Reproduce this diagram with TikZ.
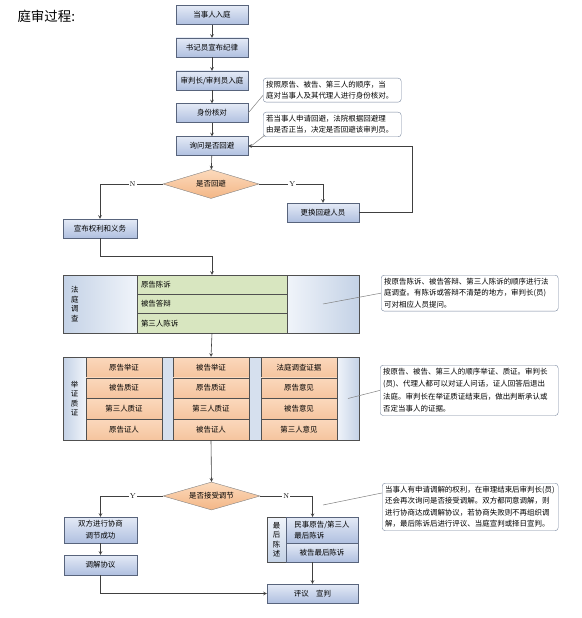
\documentclass[tikz,border=0pt]{standalone}
\usepackage{fontspec}
\newfontfamily\cjk{Noto Sans CJK SC}
\usetikzlibrary{shapes.geometric}
\tikzset{>=stealth}
\definecolor{boxtop}{RGB}{228,234,246}
\definecolor{boxbot}{RGB}{176,192,224}
\definecolor{boxline}{RGB}{88,100,124}
\definecolor{diatop}{RGB}{252,218,188}
\definecolor{diabot}{RGB}{243,182,134}
\definecolor{dialine}{RGB}{130,130,130}
\definecolor{greencell}{RGB}{216,230,192}
\definecolor{orangetop}{RGB}{251,216,188}
\definecolor{orangebot}{RGB}{245,196,158}
\definecolor{labblue}{RGB}{196,210,230}
\definecolor{labwhite}{RGB}{240,244,250}
\definecolor{gapblue}{RGB}{214,224,238}
\definecolor{cellline}{RGB}{80,80,80}
\definecolor{notecol}{RGB}{120,134,158}
\definecolor{linecol}{RGB}{64,64,64}

\begin{document}
\begin{tikzpicture}[x=1bp,y=-1bp,
    every node/.style={font=\cjk\fontsize{7.5}{9.5}\selectfont},
    proc/.style={draw=boxline, top color=boxtop, bottom color=boxbot, minimum width=72bp, minimum height=19bp, inner sep=1bp, align=center},
    decide/.style={diamond, draw=dialine, top color=diatop, bottom color=diabot, minimum width=96bp, minimum height=29bp, inner sep=0pt, aspect=3},
    note/.style={draw=notecol, rounded corners=3bp, fill=white, align=left, inner xsep=3bp, inner ysep=3bp, anchor=north west, font=\cjk\fontsize{7.5}{12.5}\selectfont},
    labcell/.style={draw=cellline, left color=labblue, right color=labwhite, inner sep=0pt},
    gcell/.style={draw=cellline, fill=greencell, minimum height=19.33bp, text width=142bp, inner xsep=4bp, inner ysep=0pt, align=left},
    ocell/.style={draw=cellline, top color=orangetop, bottom color=orangebot, minimum width=76bp, minimum height=20.75bp, inner sep=0pt},
    gap/.style={draw=cellline, fill=gapblue, inner sep=0pt},
    yn/.style={font=\fontsize{7}{8}\selectfont, fill=white, inner sep=1bp},
    line/.style={draw=linecol, line width=0.6bp},
    arr/.style={line, ->},
    noteline/.style={draw=gray, line width=0.5bp}]
    \useasboundingbox (0,0) rectangle (582,618);

    \node[anchor=west, font=\cjk\fontsize{13.5}{15}\selectfont] (title) at (14,16) {庭审过程:};

    % main column
    \node[proc] (enter) at (212,15) {当事人入庭};
    \node[proc] (rules) at (212,47.5) {书记员宣布纪律};
    \node[proc] (judges) at (212,80.5) {审判长/审判员入庭};
    \node[proc] (ident) at (212,113) {身份核对};
    \node[proc] (ask) at (212,146) {询问是否回避};
    \node[decide] (avoid) at (211,184) {是否回避};
    \node[proc] (swap) at (323,212.5) {更换回避人员};
    \node[proc, minimum width=74bp] (rights) at (100,228.5) {宣布权利和义务};

    % court inquiry
    \node[labcell, minimum width=74bp, minimum height=58bp, text width=58bp, inner xsep=8bp, align=left] (inquiry) at (100,304) {法\\庭\\调\\查};
    \node[gcell] (plaint) at (212,284.67) {原告陈诉};
    \node[gcell] (defend) at (212,304) {被告答辩};
    \node[gcell] (third) at (212,323.33) {第三人陈诉};
    \node[labcell, left color=labwhite, right color=labblue, minimum width=72bp, minimum height=58bp] (inqend) at (323,304) {};

    % evidence
    \node[labcell, minimum width=23bp, minimum height=83bp, align=center] (proof) at (74.5,398.5) {举\\证\\质\\证};
    \node[ocell] (pa) at (124,367.38) {原告举证};
    \node[ocell] (pb) at (124,388.13) {被告质证};
    \node[ocell] (pc) at (124,408.88) {第三人质证};
    \node[ocell] (pd) at (124,429.63) {原告证人};
    \node[gap, minimum width=11bp, minimum height=83bp] (gapa) at (167.5,398.5) {};
    \node[ocell] (da) at (211,367.38) {被告举证};
    \node[ocell] (db) at (211,388.13) {原告质证};
    \node[ocell] (dc) at (211,408.88) {第三人质证};
    \node[ocell] (dd) at (211,429.63) {被告证人};
    \node[gap, minimum width=12bp, minimum height=83bp] (gapb) at (255,398.5) {};
    \node[ocell] (ca) at (299,367.38) {法庭调查证据};
    \node[ocell] (cb) at (299,388.13) {原告意见};
    \node[ocell] (cc) at (299,408.88) {被告意见};
    \node[ocell] (cd) at (299,429.63) {第三人意见};
    \node[labcell, left color=labwhite, right color=labblue, minimum width=22bp, minimum height=83bp] (proofend) at (348,398.5) {};

    % mediation
    \node[decide, minimum width=97bp, minimum height=28bp] (mediate) at (211.5,496) {是否接受调节};
    \node[proc, minimum width=73bp, minimum height=26bp, font=\cjk\fontsize{7.5}{12}\selectfont] (agree) at (100.5,530) {双方进行协商\\调节成功};
    \node[proc, minimum width=73bp, minimum height=20bp] (accord) at (100.5,565) {调解协议};

    % final statement
    \node[labcell, top color=labwhite, bottom color=labblue, minimum width=19bp, minimum height=45bp, align=center] (final) at (276.5,539.5) {最\\后\\陈\\述};
    \node[proc, minimum height=26bp, align=left, font=\cjk\fontsize{7.5}{10.5}\selectfont] (finala) at (322,530) {民事原告/第三人\\最后陈诉};
    \node[proc, minimum height=19bp] (finalb) at (322,552.5) {被告最后陈诉};
    \coordinate (finaltop) at (312.5,517);
    \coordinate (finalbot) at (312.5,562);
    \node[proc, minimum width=91bp] (verdict) at (312.5,593.5) {评议\quad 宣判};

    % notes
    \node[note, text width=132bp, font=\cjk\fontsize{7.5}{11}\selectfont] (noteident) at (263,78) {按照原告、被告、第三人的顺序，当\\庭对当事人及其代理人进行身份核对。};
    \node[note, text width=132bp, font=\cjk\fontsize{7.5}{11.5}\selectfont] (noteavoid) at (263,112) {若当事人申请回避，法院根据回避理\\由是否正当，决定是否回避该审判员。};
    \node[note, text width=171bp, font=\cjk\fontsize{7.5}{11.5}\selectfont] (noteinq) at (381,275) {按原告陈诉、被告答辩、第三人陈诉的顺序进行法\\庭调查。有陈诉或答辩不清楚的地方，审判长(员)\\可对相应人员提问。};
    \node[note, text width=172bp] (noteproof) at (380,365) {按原告、被告、第三人的顺序举证、质证。审判长\\(员)、代理人都可以对证人问话，证人回答后退出\\法庭。审判长在举证质证结束后，做出判断承认或\\否定当事人的证据。};
    \node[note, text width=170bp, font=\cjk\fontsize{7.5}{11.5}\selectfont] (notemed) at (382,483) {当事人有申请调解的权利，在审理结束后审判长(员)\\还会再次询问是否接受调解。双方都同意调解，则\\进行协商达成调解协议，若协商失败则不再组织调\\解，最后陈诉后进行评议、当庭宣判或择日宣判。};
    \coordinate (medfrom) at (323,505);

    % connectors
    \draw[arr] (enter) -- (rules);
    \draw[arr] (rules) -- (judges);
    \draw[arr] (judges) -- (ident);
    \draw[arr] (ident) -- (ask);
    \draw[arr] (ask) -- (avoid);
    \draw[arr] (avoid.west) -| (rights.north) node[yn, pos=0.24] {N};
    \draw[arr] (avoid.east) -| (swap.north) node[yn, pos=0.26] {Y};
    \draw[arr] (swap.east) -- ++(53,0) |- (ask.east);
    \draw[arr] (rights.south) -- ++(0,18) -| (plaint.north);
    \draw[arr] (third.south) -- (da.north);
    \draw[arr] (dd.south) -- (mediate.north);
    \draw[arr] (mediate.west) -| (agree.north) node[yn, pos=0.24] {Y};
    \draw[arr] (mediate.east) -| (finaltop) node[yn, pos=0.25] {N};
    \draw[arr] (agree) -- (accord);
    \draw[arr] (finalbot) -- (verdict.north);
    \draw[arr] (accord.south) |- (verdict.west);

    \draw[noteline] (ident.east) -- ([yshift=7bp]noteident.south west);
    \draw[noteline] ([xshift=3bp]ask.east) -- ([xshift=2bp,yshift=2bp]noteavoid.south west);
    \draw[noteline] (inqend.center) -- (noteinq.west);
    \draw[noteline] (proofend.center) -- (noteproof.west);
    \draw[noteline] (medfrom) -- ([yshift=14bp]notemed.west);
\end{tikzpicture}
\end{document}
